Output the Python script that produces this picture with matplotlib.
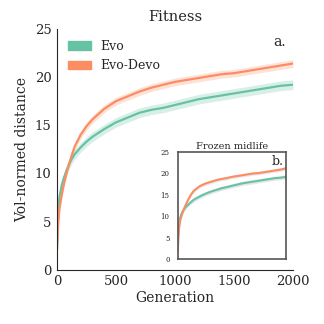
import matplotlib
matplotlib.use('Agg')
import matplotlib.pyplot as plt
import matplotlib.patches as mpatches
import numpy as np

# dados
geracoes = [0, 5, 10, 20, 40, 60, 80, 100, 125, 150, 200, 250, 300, 400, 500,
            600, 700, 800, 900, 1000, 1100, 1200, 1300, 1400, 1500, 1600, 1700,
            1800, 1900, 2000]

evo = [2.2, 4.5, 6.0, 7.5, 8.8, 9.6, 10.3, 10.9, 11.5, 12.0, 12.7, 13.3, 13.8,
       14.6, 15.3, 15.8, 16.3, 16.6, 16.8, 17.1, 17.4, 17.7, 17.9, 18.1, 18.3,
       18.5, 18.7, 18.9, 19.1, 19.2]
evo_devo = [2.2, 3.5, 4.8, 6.3, 7.8, 9.0, 10.0, 10.9, 11.9, 12.8, 14.0, 14.9,
            15.6, 16.7, 17.5, 18.0, 18.5, 18.9, 19.2, 19.5, 19.7, 19.9, 20.1,
            20.3, 20.4, 20.6, 20.8, 21.0, 21.2, 21.4]

evo_inset = [2.2, 5.0, 6.5, 8.0, 9.5, 10.3, 10.9, 11.4, 11.8, 12.2, 12.8, 13.4,
             13.9, 14.6, 15.2, 15.7, 16.1, 16.5, 16.8, 17.1, 17.4, 17.7, 17.9,
             18.1, 18.3, 18.5, 18.7, 18.9, 19.0, 19.2]
evo_devo_inset = [2.2, 4.0, 5.5, 7.0, 8.8, 9.8, 10.6, 11.3, 12.1, 12.8, 14.1,
                  15.2, 16.0, 17.0, 17.6, 18.0, 18.4, 18.7, 18.9, 19.2, 19.4,
                  19.6, 19.8, 20.0, 20.1, 20.3, 20.5, 20.7, 20.9, 21.2]

erro_evo = 0.5
erro_evo_devo = 0.4

rotulos = ['Evo', 'Evo-Devo']
cores = ['#66c2a5', '#fc8d62']

plt.rcParams['font.family'] = 'DejaVu Serif'
plt.rcParams['axes.edgecolor'] = '#262626'
plt.rcParams['xtick.color'] = '#262626'
plt.rcParams['ytick.color'] = '#262626'
plt.rcParams['text.color'] = '#262626'
plt.rcParams['axes.labelcolor'] = '#262626'

fig = plt.figure(figsize=(3.24, 3.24), dpi=100)
ax = fig.add_axes([0.176, 0.167, 0.728, 0.744])

g = np.array(geracoes)
for serie, err, cor in zip([evo, evo_devo], [erro_evo, erro_evo_devo], cores):
    s = np.array(serie)
    ax.fill_between(g, s - err, s + err, color=cor, alpha=0.25, lw=0)
    ax.plot(g, s, color=cor, lw=1.6)

ax.set_xlim(0, 2000)
ax.set_ylim(0, 25)
ax.set_xticks([0, 500, 1000, 1500, 2000])
ax.set_yticks([0, 5, 10, 15, 20, 25])
ax.tick_params(labelsize=9.5, length=0, pad=4)
for lado in ['top', 'right']:
    ax.spines[lado].set_visible(False)
ax.set_title('Fitness', fontsize=10.5)
ax.set_xlabel('Generation', fontsize=10, labelpad=2)
ax.set_ylabel('Vol-normed distance', fontsize=10)
ax.text(0.97, 0.93, 'a.', transform=ax.transAxes, ha='right', fontsize=10)

handles = [mpatches.Patch(color=c, label=l) for c, l in zip(cores, rotulos)]
ax.legend(handles=handles, loc='upper left', frameon=False, fontsize=9,
          bbox_to_anchor=(0.0, 1.0), handlelength=1.8)

# painel menor
axi = fig.add_axes([0.549, 0.2006, 0.333, 0.330])
for serie, err, cor in zip([evo_inset, evo_devo_inset], [erro_evo, erro_evo_devo], cores):
    s = np.array(serie)
    axi.fill_between(g, s - err, s + err, color='#bbbbbb', alpha=0.35, lw=0)
    axi.plot(g, s, color=cor, lw=1.5)
axi.set_xlim(0, 2000)
axi.set_ylim(0, 25)
axi.set_xticks([])
axi.set_yticks([0, 5, 10, 15, 20, 25])
axi.tick_params(labelsize=5, length=0, pad=6)
for sp in axi.spines.values():
    sp.set_color('#555555')
    sp.set_linewidth(1.2)
axi.set_title('Frozen midlife', fontsize=7, pad=2)
axi.text(0.98, 0.97, 'b.', transform=axi.transAxes, ha='right', va='top', fontsize=9)

fig.savefig('out.png', dpi=100)
